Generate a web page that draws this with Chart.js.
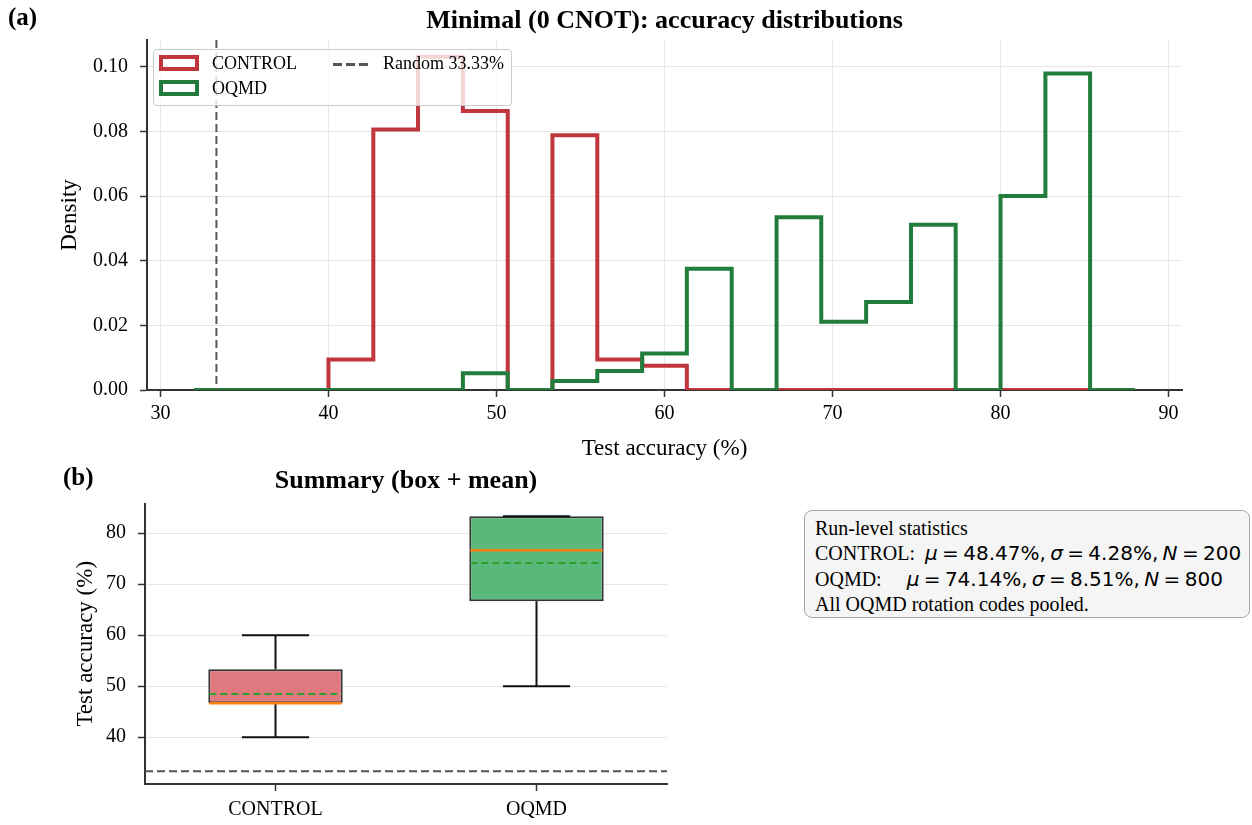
<!DOCTYPE html>
<html>
<head>
<meta charset="utf-8">
<title>Minimal (0 CNOT): accuracy distributions</title>
<script src="https://cdn.jsdelivr.net/npm/chart.js@4.4.1/dist/chart.umd.min.js"></script>
<style>
  body { margin: 0; background: #fff; }
  #wrap { position: relative; width: 1252px; height: 825px; overflow: hidden; background: #fff;
          font-family: 'Liberation Serif', 'Times New Roman', serif; color: #000; }
  #histCanvas { position: absolute; left: 0; top: 0; }
  #boxCanvas { position: absolute; left: 0; top: 460px; }
  .panel { position: absolute; font-weight: bold; font-size: 25px; line-height: 30px; }
  #legend { position: absolute; left: 153px; top: 49px; width: 359px; height: 57px; box-sizing: border-box;
            background: rgba(255,255,255,0.8); border: 1.5px solid #cccccc; border-radius: 4px; font-size: 18px; }
  #legend .sw { position: absolute; width: 40px; height: 16px; box-sizing: border-box; border-style: solid; border-width: 4px; }
  #legend .lb { position: absolute; line-height: 20px; white-space: nowrap; }
  #legend .dash { position: absolute; width: 37px; height: 2.5px;
                  background: repeating-linear-gradient(90deg, #555 0 9px, transparent 9px 13px); }
  #stats { position: absolute; left: 804px; top: 510px; width: 446px; height: 108px; box-sizing: border-box;
           background: #f5f5f5; border: 1.5px solid #a8a8a8; border-radius: 8px;
           padding: 4.75px 0 0 10px; font-size: 20px; line-height: 25.5px; white-space: pre; }
  #stats .m { font-family: 'DejaVu Sans', sans-serif; word-spacing: -2px; }
  #stats .m i { font-style: italic; }
</style>
</head>
<body>
<div id="wrap">
  <canvas id="histCanvas" width="1252" height="470"></canvas>
  <canvas id="boxCanvas" width="700" height="365"></canvas>
  <div class="panel" style="left:8px; top:2px;">(a)</div>
  <div class="panel" style="left:63px; top:462px;">(b)</div>
  <div id="legend"></div>
  <div id="stats"></div>
</div>
<script>
// histogram bins (test accuracy %, shared by both groups) and densities per bin
var binEdges = [32, 34.67, 37.33, 40, 42.67, 45.33, 48, 50.67, 53.33, 56, 58.67, 61.33,
                64, 66.67, 69.33, 72, 74.67, 77.33, 80, 82.67, 85.33, 88];
var densityControl = [0, 0, 0, 0.0094, 0.0806, 0.1031, 0.0863, 0, 0.0788, 0.0094, 0.0075,
                      0, 0, 0, 0, 0, 0, 0, 0, 0, 0];
var densityOqmd = [0, 0, 0, 0, 0, 0, 0.0052, 0, 0.0028, 0.0059, 0.0113,
                   0.0375, 0, 0.0534, 0.0211, 0.0272, 0.0511, 0, 0.0600, 0.0979, 0];
var randomLevel = 33.33;

// run-level summary per group
var groups = ['CONTROL', 'OQMD'];
var whiskerLow = [40, 50];
var quartile1 = [46.67, 66.67];
var medians = [46.67, 76.67];
var quartile3 = [53.33, 83.33];
var whiskerHigh = [60, 83.33];
var means = [48.47, 74.14];
var stds = [4.28, 8.51];
var runs = [200, 800];

// tick labels
var accTicks = [30, 40, 50, 60, 70, 80, 90];
var densityTicks = [0, 0.02, 0.04, 0.06, 0.08, 0.10];
var boxTicks = [40, 50, 60, 70, 80];

var RED = '#c0363c';
var GREEN = '#227c3c';
var FILLS = ['#e0797f', '#5ab87a'];
var GRID = '#e6e6e6';
var SPINE = '#333333';

Chart.defaults.font.family = "'Liberation Serif', 'Times New Roman', serif";
Chart.defaults.color = '#000';

function stepPoints(edges, dens) {
    var pts = [{x: edges[0], y: 0}];
    for (var i = 0; i < dens.length; i++) {
        pts.push({x: edges[i], y: dens[i]});
        pts.push({x: edges[i + 1], y: dens[i]});
    }
    pts.push({x: edges[edges.length - 1], y: 0});
    return pts;
}
function fixedTicks(list) {
    return function(scale) {
        scale.ticks = list.map(function(v) { return {value: v}; });
    };
}

// dashed chance-level line, vertical on the histogram and horizontal on the box panel
var chanceLine = {
    id: 'chanceLine',
    afterDatasetsDraw: function(chart, args, opts) {
        var ctx = chart.ctx, area = chart.chartArea;
        ctx.save();
        ctx.strokeStyle = '#555';
        ctx.lineWidth = 2;
        ctx.setLineDash([8, 4]);
        ctx.beginPath();
        if (opts.axis === 'x') {
            var px = chart.scales.x.getPixelForValue(randomLevel);
            ctx.moveTo(px, area.top);
            ctx.lineTo(px, area.bottom);
        } else {
            var py = chart.scales.y.getPixelForValue(randomLevel);
            ctx.moveTo(area.left, py);
            ctx.lineTo(area.right, py);
        }
        ctx.stroke();
        ctx.restore();
    }
};

// whiskers, caps, median and mean drawn on top of the floating bars
var boxParts = {
    id: 'boxParts',
    afterDatasetsDraw: function(chart) {
        var ctx = chart.ctx, y = chart.scales.y;
        var bars = chart.getDatasetMeta(0).data;
        bars.forEach(function(bar, i) {
            var half = bar.width / 2, cx = bar.x, cap = half / 2;
            ctx.save();
            ctx.strokeStyle = '#111';
            ctx.lineWidth = 2;
            ctx.beginPath();
            ctx.moveTo(cx, y.getPixelForValue(quartile1[i]));
            ctx.lineTo(cx, y.getPixelForValue(whiskerLow[i]));
            ctx.moveTo(cx, y.getPixelForValue(quartile3[i]));
            ctx.lineTo(cx, y.getPixelForValue(whiskerHigh[i]));
            ctx.moveTo(cx - cap, y.getPixelForValue(whiskerLow[i]));
            ctx.lineTo(cx + cap, y.getPixelForValue(whiskerLow[i]));
            ctx.moveTo(cx - cap, y.getPixelForValue(whiskerHigh[i]));
            ctx.lineTo(cx + cap, y.getPixelForValue(whiskerHigh[i]));
            ctx.stroke();

            ctx.strokeStyle = '#ff7f0e';
            ctx.lineWidth = 2.5;
            ctx.beginPath();
            ctx.moveTo(cx - half + 1, y.getPixelForValue(medians[i]));
            ctx.lineTo(cx + half - 1, y.getPixelForValue(medians[i]));
            ctx.stroke();

            ctx.strokeStyle = '#2ca02c';
            ctx.lineWidth = 2;
            ctx.setLineDash([7, 4]);
            ctx.beginPath();
            ctx.moveTo(cx - half + 1, y.getPixelForValue(means[i]));
            ctx.lineTo(cx + half - 1, y.getPixelForValue(means[i]));
            ctx.stroke();
            ctx.restore();
        });
    }
};

function axisStyle() {
    return {
        grid: {color: GRID, lineWidth: 1, tickColor: SPINE, tickLength: 7, tickWidth: 1.5},
        border: {color: SPINE, width: 2}
    };
}

// ---- (a) histogram ----
var accSpan = binEdges[binEdges.length - 1] - binEdges[0];
var densMax = Math.max.apply(null, densityControl.concat(densityOqmd));
var histX = axisStyle();
histX.type = 'linear';
histX.min = binEdges[0] - 0.05 * accSpan;
histX.max = binEdges[binEdges.length - 1] + 0.05 * accSpan;
histX.afterBuildTicks = fixedTicks(accTicks);
histX.afterFit = function(s) { s.height = 80; };
histX.ticks = {font: {size: 20}, padding: 5};
histX.title = {display: true, text: 'Test accuracy (%)', font: {size: 23}, padding: {top: 0, bottom: 7.2}};

var histY = axisStyle();
histY.min = 0;
histY.max = densMax * 1.05;
histY.afterBuildTicks = fixedTicks(densityTicks);
histY.afterFit = function(s) { s.width = 147; };
histY.ticks = {font: {size: 20}, padding: 12, callback: function(v) { return v.toFixed(2); }};
histY.title = {display: true, text: 'Density', font: {size: 23}, padding: {top: 56, bottom: 0}};

var histChart = new Chart(document.getElementById('histCanvas'), {
    type: 'line',
    data: {
        datasets: [
            {label: 'CONTROL', data: stepPoints(binEdges, densityControl), borderColor: RED,
             borderWidth: 4, pointRadius: 0, fill: false, tension: 0, order: 2},
            {label: 'OQMD', data: stepPoints(binEdges, densityOqmd), borderColor: GREEN,
             borderWidth: 4, pointRadius: 0, fill: false, tension: 0, order: 1}
        ]
    },
    options: {
        responsive: false,
        animation: false,
        devicePixelRatio: 1,
        layout: {padding: {left: 0, right: 70, top: 0, bottom: 0}},
        plugins: {
            legend: {display: false},
            tooltip: {enabled: false},
            title: {display: true, text: 'Minimal (0 CNOT): accuracy distributions', fullSize: false,
                    font: {size: 26, weight: 'bold'}, padding: {top: 5.5, bottom: 3.3}},
            chanceLine: {axis: 'x'}
        },
        scales: {x: histX, y: histY}
    },
    plugins: [chanceLine]
});

// ---- (b) box + mean ----
var lo = Math.min(randomLevel, Math.min.apply(null, whiskerLow));
var hi = Math.max.apply(null, whiskerHigh);
var boxX = axisStyle();
boxX.offset = true;
boxX.grid.offset = false;
boxX.grid.drawOnChartArea = false;
boxX.afterFit = function(s) { s.height = 41; };
boxX.ticks = {font: {size: 20}, padding: 7};

var boxY = axisStyle();
boxY.min = lo - 0.05 * (hi - lo);
boxY.max = hi + 0.05 * (hi - lo);
boxY.afterBuildTicks = fixedTicks(boxTicks);
boxY.afterFit = function(s) { s.width = 145; };
boxY.ticks = {font: {size: 20}, padding: 12};
boxY.title = {display: true, text: 'Test accuracy (%)', font: {size: 23}, padding: {top: 72, bottom: 0}};

var boxChart = new Chart(document.getElementById('boxCanvas'), {
    type: 'bar',
    data: {
        labels: groups,
        datasets: [{
            data: groups.map(function(g, i) { return [quartile1[i], quartile3[i]]; }),
            backgroundColor: FILLS,
            borderColor: SPINE,
            borderWidth: 2,
            borderSkipped: false,
            barPercentage: 0.515,
            categoryPercentage: 1
        }]
    },
    options: {
        responsive: false,
        animation: false,
        devicePixelRatio: 1,
        layout: {padding: {left: 0, right: 33, top: 0, bottom: 0}},
        plugins: {
            legend: {display: false},
            tooltip: {enabled: false},
            title: {display: true, text: 'Summary (box + mean)', fullSize: false,
                    font: {size: 26, weight: 'bold'}, padding: {top: 6, bottom: 6.3}},
            chanceLine: {axis: 'y'}
        },
        scales: {x: boxX, y: boxY}
    },
    plugins: [boxParts, chanceLine]
});

// legend drawn inside the histogram axes
function buildLegend() {
    var el = document.getElementById('legend');
    var html = '';
    var colors = [RED, GREEN];
    groups.forEach(function(name, i) {
        var top = 5 + i * 25;
        html += '<div class="sw" style="left:5px; top:' + top + 'px; border-color:' + colors[i] + ';"></div>';
        html += '<div class="lb" style="left:58px; top:' + (top - 2) + 'px;">' + name + '</div>';
    });
    html += '<div class="dash" style="left:179px; top:13px;"></div>';
    html += '<div class="lb" style="left:229px; top:3px;">Random ' + randomLevel.toFixed(2) + '%</div>';
    el.innerHTML = html;
}
function buildStats() {
    var gaps = ['  ', '     '];
    var lines = ['Run-level statistics'];
    groups.forEach(function(name, i) {
        lines.push(name + ':' + gaps[i] + '<span class="m"><i>μ</i> = ' + means[i].toFixed(2) +
                   '%, <i>σ</i> = ' + stds[i].toFixed(2) + '%, <i>N</i> = ' + runs[i] + '</span>');
    });
    lines.push('All OQMD rotation codes pooled.');
    document.getElementById('stats').innerHTML = lines.join('\n');
}
buildLegend();
buildStats();
</script>
</body>
</html>
